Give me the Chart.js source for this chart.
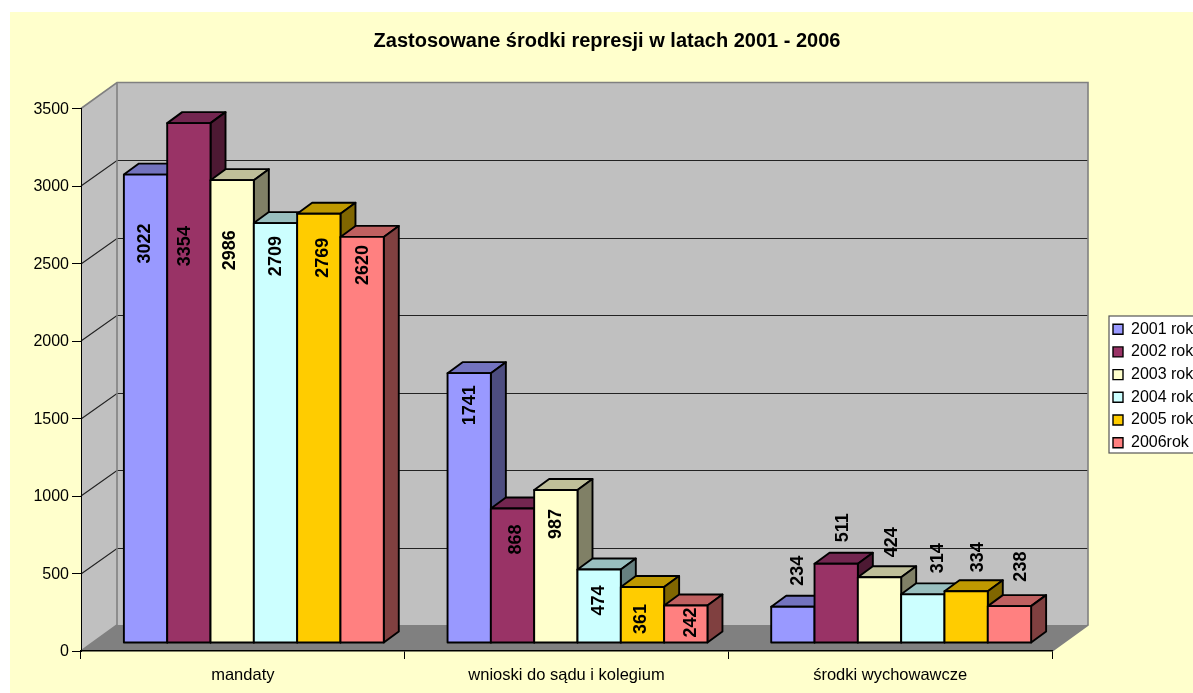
<!DOCTYPE html>
<html><head><meta charset="utf-8">
<script src="https://cdn.jsdelivr.net/npm/chart.js@4"></script>
<style>html,body{margin:0;padding:0;background:#fff;overflow:hidden}canvas{display:block}</style>
</head><body><div style="width:1193px;height:693px;position:relative"><canvas id="c"></canvas></div>
<script>
const titleText = 'Zastosowane środki represji w latach 2001 - 2006';
const categories = ['mandaty', 'wnioski do sądu i kolegium', 'środki wychowawcze'];
const seriesNames = ['2001 rok', '2002 rok', '2003 rok', '2004 rok', '2005 rok', '2006rok'];
const values2001 = [3022, 1741, 234];
const values2002 = [3354, 868, 511];
const values2003 = [2986, 987, 424];
const values2004 = [2709, 474, 314];
const values2005 = [2769, 361, 334];
const values2006 = [2620, 242, 238];
const allValues = [values2001, values2002, values2003, values2004, values2005, values2006];

const faceColors = ['#9999FF', '#993366', '#FFFFCC', '#CCFFFF', '#FFCC00', '#FF8080'];
const topColors = ['#7373BF', '#732650', '#BFBF99', '#99BFBF', '#BF9900', '#BF6060'];
const sideColors = ['#4D4D80', '#4D1933', '#808066', '#668080', '#806600', '#804040'];

// Label placement relative to the bar's top-centre, [dx, dy] by series then category
const labelShift = [
  [[-2, 69], [0, 32], [4, -36]],
  [[-5, 123], [3, 31], [6, -36]],
  [[-3, 70], [-1, 34], [11.5, -35]],
  [[0, 33], [-1.5, 31], [14, -36]],
  [[3, 44], [-2, 32], [11, -34]],
  [[0, 28], [4, 17], [11, -39.5]]
];

const DEPTH_X = 36, DEPTH_Y = -26, BAR_DX = 15, BAR_DY = -11, SHIFT_X = 11, SHIFT_Y = -8;
const FONT = '"Liberation Sans", Arial, sans-serif';

function poly(ctx, pts, fill, stroke, lw) {
  ctx.beginPath();
  pts.forEach((p, i) => i ? ctx.lineTo(p[0], p[1]) : ctx.moveTo(p[0], p[1]));
  ctx.closePath();
  if (fill) { ctx.fillStyle = fill; ctx.fill(); }
  if (stroke) { ctx.strokeStyle = stroke; ctx.lineWidth = lw; ctx.lineJoin = 'round'; ctx.stroke(); }
}

const chart3d = {
  id: 'chart3d',
  beforeLayout(chart) {
    const lg = chart.legend;
    if (lg && !lg._wrapped) {
      const f = lg.fit; lg.fit = function () { f.call(this); this.width = 141; }; lg._wrapped = true;
    }
  },
  afterLayout(chart) {
    const lg = chart.legend, tb = chart.titleBlock;
    lg.left = 1106.3; lg.right = 1300; lg.top = 314.5; lg.bottom = 460;
    tb.left = 21; tb.right = 1193;
  },
  beforeDraw(chart) {
    const ctx = chart.ctx, a = chart.chartArea, y = chart.scales.y;
    ctx.save();
    ctx.fillStyle = '#FFFFCC';
    ctx.fillRect(10, 12, chart.width - 10, chart.height - 12);
    const L = a.left, R = a.right, T = a.top, B = a.bottom;
    const bL = L + DEPTH_X, bR = R + DEPTH_X, bT = T + DEPTH_Y, bB = B + DEPTH_Y;
    poly(ctx, [[bL, bT], [bR, bT], [bR, bB], [bL, bB]], '#C0C0C0');
    poly(ctx, [[L, T], [bL, bT], [bL, bB], [L, B]], '#C0C0C0');
    poly(ctx, [[L, B], [bL, bB], [bR, bB], [R, B]], '#808080');
    ctx.strokeStyle = '#222'; ctx.lineWidth = 1.2;
    y.ticks.forEach(t => {
      if (t.value === 0 || t.value === 3500) return;
      const py = Math.round(y.getPixelForValue(t.value));
      ctx.beginPath();
      ctx.moveTo(L, py); ctx.lineTo(bL, py + DEPTH_Y + .5); ctx.lineTo(bR, py + DEPTH_Y + .5);
      ctx.stroke();
    });
    ctx.strokeStyle = '#808080'; ctx.lineWidth = 1.6;
    ctx.beginPath();
    ctx.moveTo(L, T); ctx.lineTo(bL, bT); ctx.lineTo(bR, bT); ctx.lineTo(bR, bB); ctx.lineTo(R, B);
    ctx.moveTo(bL, bT); ctx.lineTo(bL, bB); ctx.lineTo(L, B);
    ctx.stroke();
    // legend frame
    ctx.fillStyle = '#FFFFFF'; ctx.strokeStyle = '#555'; ctx.lineWidth = 1.2;
    ctx.fillRect(1109, 316, 90, 137); ctx.strokeRect(1109, 316, 90, 137);
    ctx.restore();
  },
  // The library paints the last dataset first; these bars overlap left to right,
  // so each dataset's elements are painted here in the opposite order.
  beforeDatasetDraw() { return false; },
  beforeDatasetsDraw(chart) {
    const ctx = chart.ctx;
    const metas = chart.getSortedVisibleDatasetMetas();
    metas.forEach(meta => {
      const i = meta.index;
      ctx.save();
      ctx.translate(SHIFT_X, SHIFT_Y);
      meta.data.forEach(bar => {
        const l = bar.x - bar.width / 2, r = bar.x + bar.width / 2, t = bar.y, b = bar.base;
        poly(ctx, [[l, t], [l + BAR_DX, t + BAR_DY], [r + BAR_DX, t + BAR_DY], [r, t]], topColors[i], '#000', 1.9);
        poly(ctx, [[r, t], [r + BAR_DX, t + BAR_DY], [r + BAR_DX, b + BAR_DY], [r, b]], sideColors[i], '#000', 1.9);
      });
      meta.controller.draw();
      meta.data.forEach(bar => {
        ctx.strokeStyle = '#000'; ctx.lineWidth = 1.9;
        ctx.strokeRect(bar.x - bar.width / 2, bar.y, bar.width, bar.base - bar.y);
      });
      ctx.restore();
    });
  },
  afterDatasetsDraw(chart) {
    const ctx = chart.ctx;
    ctx.save();
    ctx.fillStyle = '#000';
    ctx.font = 'bold 18px ' + FONT;
    ctx.textAlign = 'center'; ctx.textBaseline = 'middle';
    chart.getSortedVisibleDatasetMetas().forEach(meta => {
      meta.data.forEach((bar, c) => {
        const s = labelShift[meta.index][c];
        ctx.save();
        ctx.translate(bar.x + SHIFT_X + s[0], bar.y + SHIFT_Y + s[1]);
        ctx.rotate(-Math.PI / 2);
        ctx.fillText(String(allValues[meta.index][c]), 0, 1);
        ctx.restore();
      });
    });
    ctx.restore();
  }
};

new Chart(document.getElementById('c'), {
  type: 'bar',
  data: {
    labels: categories,
    datasets: seriesNames.map((n, i) => ({
      label: n,
      data: allValues[i],
      backgroundColor: faceColors[i],
      borderWidth: 0,
      clip: false,
      categoryPercentage: 0.803,
      barPercentage: 1
    }))
  },
  plugins: [chart3d],
  options: {
    responsive: true,
    maintainAspectRatio: false,
    animation: false,
    layout: { padding: 0 },
    plugins: {
      tooltip: { enabled: false },
      title: {
        display: true, text: titleText, color: '#000', position: 'top',
        font: { family: FONT, size: 20, weight: 'bold', lineHeight: 1.2 },
        padding: { top: 29, bottom: 55.5 }
      },
      legend: {
        display: true, position: 'right', align: 'start',
        labels: {
          boxWidth: 10, boxHeight: 10, padding: 6.7, color: '#000',
          font: { family: FONT, size: 16 },
          generateLabels: () => seriesNames.map((n, i) => ({
            text: n, fillStyle: faceColors[i], strokeStyle: '#000', lineWidth: 1.4, datasetIndex: i
          }))
        }
      }
    },
    scales: {
      x: {
        grid: { display: true, drawOnChartArea: false, tickLength: 8, color: ctx => ctx.index === 3 ? '#808080' : '#000' },
        border: { color: '#000', width: 1.5 },
        ticks: { color: '#000', padding: 7, maxRotation: 0, font: { family: FONT, size: 16.5 } },
        afterFit: s => { s.height = 42; }
      },
      y: {
        min: 0, max: 3500,
        grid: { display: true, drawOnChartArea: false, tickLength: 9, color: '#000' },
        border: { color: '#000', width: 1 },
        ticks: { stepSize: 500, color: '#000', padding: 3, labelOffset: 1, font: { family: FONT, size: 16 }, callback: v => String(v) },
        afterFit: s => { s.width = 81; }
      }
    }
  }
});
</script></body></html>
